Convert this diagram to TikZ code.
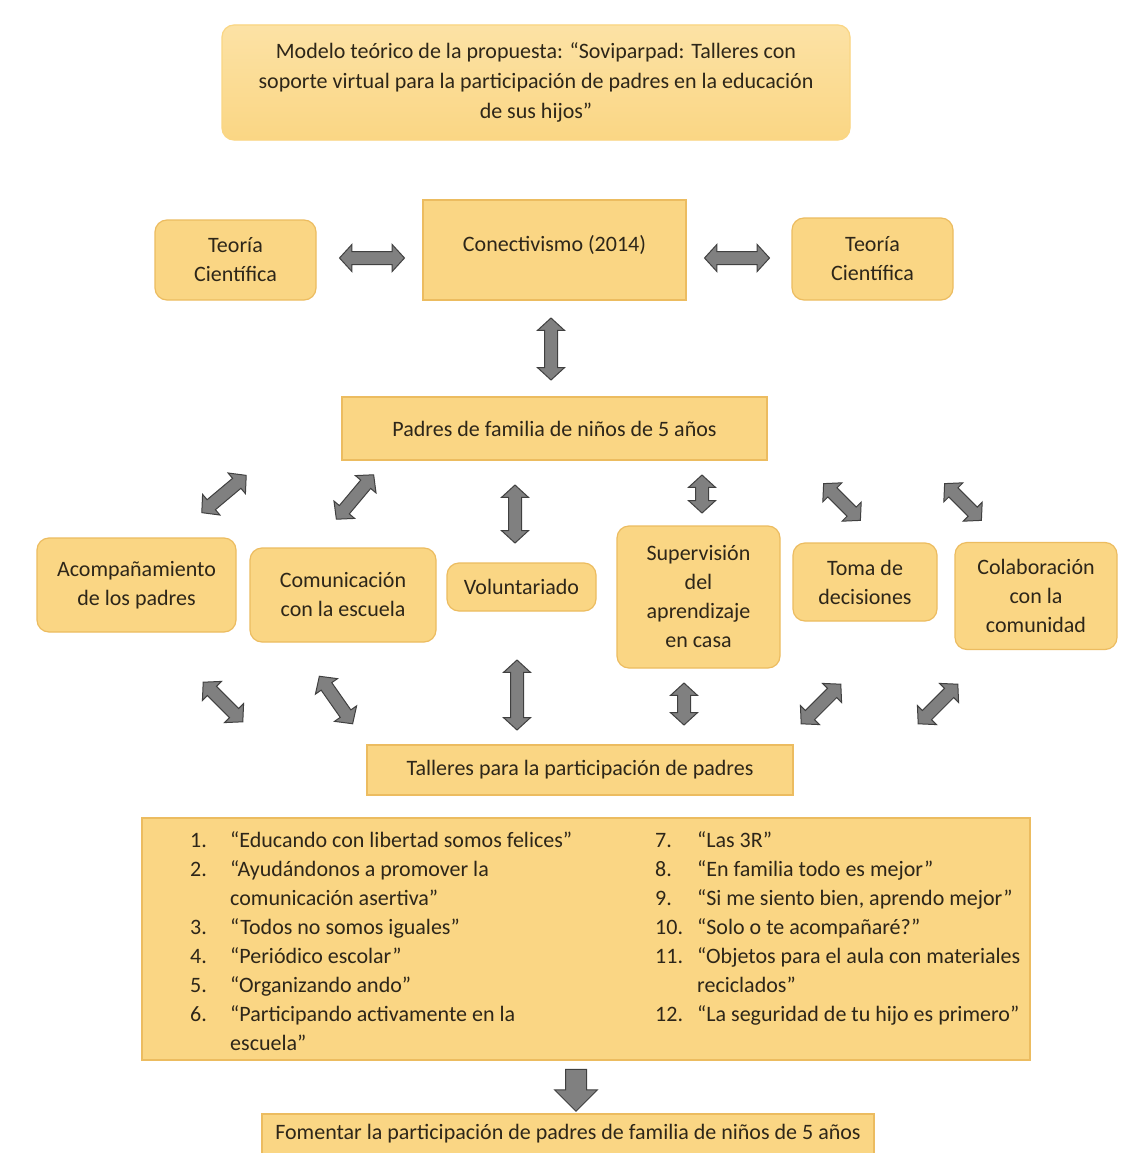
\documentclass[tikz,border=0pt]{standalone}
\usepackage{fontspec}
\setmainfont{Carlito}
\usetikzlibrary{shapes.arrows}
\definecolor{boxfill}{RGB}{250,214,132}
\definecolor{boxtop}{RGB}{252,226,165}
\definecolor{boxline}{RGB}{236,188,96}
\definecolor{arrfill}{RGB}{128,128,128}
\definecolor{arrline}{RGB}{64,64,64}
\definecolor{txt}{RGB}{45,38,25}
\begin{document}
\begin{tikzpicture}[x=1pt,y=1pt,
  every node/.style={text=txt, font=\fontsize{22}{29}\selectfont},
  rbox/.style={draw=boxline, line width=1.2pt, fill=boxfill, rounded corners=12pt, align=center, inner sep=0pt},
  sbox/.style={rbox, rounded corners=0pt},
  darr/.style={shape=double arrow, draw=arrline, fill=arrfill, line width=1pt, inner xsep=0pt, inner ysep=6pt,
    text height=0pt, text depth=0pt, double arrow head extend=7pt, double arrow tip angle=95},
  sarr/.style={shape=single arrow, draw=arrline, fill=arrfill, line width=1pt, inner xsep=0pt, inner ysep=10pt,
    text height=0pt, text depth=0pt, single arrow head extend=11pt, single arrow tip angle=90}]
\useasboundingbox (0,0) rectangle (1135,-1153);
\fill[white] (0,0) rectangle (1135,-1153);

% title
\node[rbox, draw=boxfill, top color=boxtop, bottom color=boxfill, minimum width=628pt, minimum height=115pt,
  font=\fontsize{22}{30}\selectfont] (title) at (536,-82.5)
  {Modelo teórico de la propuesta: “Soviparpad: Talleres con\\ soporte virtual para la participación de padres en la educación\\ de sus hijos”};

% theory row
\node[rbox, minimum width=161pt, minimum height=80pt] (teoL) at (235.5,-260) {Teoría\\ Científica};
\node[sbox, minimum width=263pt, minimum height=100pt, text depth=14pt] (conect) at (554.5,-250) {Conectivismo (2014)};
\node[rbox, minimum width=161pt, minimum height=82pt] (teoR) at (872.5,-259) {Teoría\\ Científica};

\node[darr, minimum height=65pt] (aL) at (372,-258) {};
\node[darr, minimum height=65pt] (aR) at (737,-258) {};
\node[darr, rotate=90, minimum height=62pt] (aV) at (551,-349) {};

\node[sbox, minimum width=425pt, minimum height=63pt] (padres) at (554.5,-428.5) {Padres de familia de niños de 5 años};

% upper arrow row
\node[darr, rotate=40, minimum height=58pt] (u1) at (224,-494) {};
\node[darr, rotate=50, minimum height=58pt] (u2) at (355,-497) {};
\node[darr, rotate=90, minimum height=58pt] (u3) at (515,-514) {};
\node[darr, rotate=90, minimum height=38pt] (u4) at (702,-494) {};
\node[darr, rotate=-45, minimum height=52pt] (u5) at (842,-502) {};
\node[darr, rotate=-45, minimum height=52pt] (u6) at (963,-502) {};

% dimension boxes
\node[rbox, minimum width=199pt, minimum height=94pt] (acomp) at (136.5,-585) {Acompañamiento\\ de los padres};
\node[rbox, minimum width=186pt, minimum height=94pt] (comun) at (343,-595) {Comunicación\\ con la escuela};
\node[rbox, minimum width=149pt, minimum height=48pt] (volun) at (521.5,-587) {Voluntariado};
\node[rbox, minimum width=163pt, minimum height=142pt] (superv) at (698.5,-597) {Supervisión\\ del\\ aprendizaje\\ en casa};
\node[rbox, minimum width=144pt, minimum height=78pt] (toma) at (865,-582) {Toma de\\ decisiones};
\node[rbox, minimum width=162pt, minimum height=107pt] (colab) at (1036,-596) {Colaboración\\ con la\\ comunidad};

% lower arrow row
\node[darr, rotate=-45, minimum height=56pt] (l1) at (223,-702) {};
\node[darr, rotate=-55, minimum height=58pt] (l2) at (336,-700) {};
\node[darr, rotate=90, minimum height=70pt] (l3) at (517,-695) {};
\node[darr, rotate=90, minimum height=42pt] (l4) at (684,-704) {};
\node[darr, rotate=45, minimum height=56pt] (l5) at (821,-704) {};
\node[darr, rotate=45, minimum height=56pt] (l6) at (938,-704) {};

\node[sbox, minimum width=426pt, minimum height=50pt] (talleres) at (580,-770) {Talleres para la participación de padres};

% list box
\node[sbox, minimum width=888pt, minimum height=242pt] (lista) at (586,-939) {};
\node[anchor=north west, inner sep=0pt] (colA) at (190,-827) {%
  \begin{tabular}{@{}l@{}l@{}}
  \makebox[40pt][l]{1.} & “Educando con libertad somos felices”\\
  \makebox[40pt][l]{2.} & “Ayudándonos a promover la\\
   & comunicación asertiva”\\
  \makebox[40pt][l]{3.} & “Todos no somos iguales”\\
  \makebox[40pt][l]{4.} & “Periódico escolar”\\
  \makebox[40pt][l]{5.} & “Organizando ando”\\
  \makebox[40pt][l]{6.} & “Participando activamente en la\\
   & escuela”
  \end{tabular}};
\node[anchor=north west, inner sep=0pt] (colB) at (655,-827) {%
  \begin{tabular}{@{}l@{}l@{}}
  \makebox[42pt][l]{7.} & “Las 3R”\\
  \makebox[42pt][l]{8.} & “En familia todo es mejor”\\
  \makebox[42pt][l]{9.} & “Si me siento bien, aprendo mejor”\\
  \makebox[42pt][l]{10.} & “Solo o te acompañaré?”\\
  \makebox[42pt][l]{11.} & “Objetos para el aula con materiales\\
   & reciclados”\\
  \makebox[42pt][l]{12.} & “La seguridad de tu hijo es primero”
  \end{tabular}};

\node[sarr, rotate=-90, minimum height=42pt] (down) at (576,-1085) {};

\node[sbox, minimum width=612pt, minimum height=44pt, text depth=8pt] (fomentar) at (568,-1136) {Fomentar la participación de padres de familia de niños de 5 años};
\end{tikzpicture}
\end{document}
